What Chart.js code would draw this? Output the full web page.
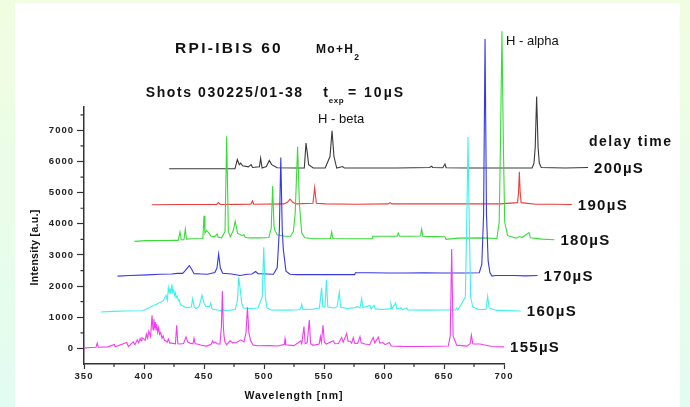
<!DOCTYPE html>
<html>
<head>
<meta charset="utf-8">
<script src="https://cdn.jsdelivr.net/npm/chart.js@4.4.0/dist/chart.umd.min.js"></script>
<style>
html, body { margin: 0; padding: 0; }
body {
	width: 690px; height: 407px; overflow: hidden; position: relative;
	background: linear-gradient(180deg, #f1fde1 0%, #e9fde9 55%, #e2fcf1 100%);
}
#panel { position: absolute; left: 15px; top: 3px; width: 665px; height: 404px; background: #fff; }
#c { position: absolute; left: 0; top: 0; }
</style>
</head>
<body>
<div id="panel"></div>
<canvas id="c" width="690" height="407"></canvas>
<script>
/* Espectros Mo+H2, gráfico en cascada (waterfall)
	cada traza: [longitud de onda nm, intensidad sobre su línea base]
*/
const spec155 = [[350,10],[355,30],[360,40],[361,170],[362,40],[370,50],[375.3,130],[376,50],[385.6,190],[387,60],[391,210],[392.5,120],[394.4,275],[395.5,180],[396.7,320],[397.5,250],[398.3,350],[400,300],[401,260],[402,460],[403,330],[404,550],[405.5,380],[406.7,1065],[407.5,600],[408.3,940],[408.9,650],[409.4,850],[410,600],[410.6,780],[411.4,520],[412.2,670],[413,450],[413.9,510],[415,330],[416,400],[417,260],[418.3,240],[419.3,200],[420.3,300],[421.5,170],[423,170],[426.2,150],[427.2,745],[428.2,150],[430,140],[433,160],[435,370],[436.5,200],[438.3,170],[440.8,150],[441.7,330],[442.6,150],[444.4,140],[448,100],[452,75],[456,130],[457.2,245],[458.2,170],[459.2,210],[461,150],[463.3,140],[464.5,700],[465.3,1845],[466.1,700],[466.7,400],[467.5,200],[468.9,120],[471.7,245],[474,180],[477.2,190],[480.6,275],[483.3,210],[485,500],[486.2,1320],[487.4,500],[488.9,245],[491,105],[495,85],[505,90],[512,80],[517,130],[517.5,300],[518,120],[525,90],[530.6,245],[531.5,150],[533.3,700],[534.3,150],[536,180],[537.8,915],[538.8,150],[541,100],[546,140],[547,380],[547.8,200],[549.2,745],[550.3,200],[552,140],[557.7,245],[559,150],[562,160],[564.7,350],[566,200],[568.9,480],[570,230],[571.7,230],[573,170],[574.4,340],[575.5,170],[578,160],[580,380],[581,180],[584,140],[588,120],[591,350],[592.3,180],[595.3,360],[596.5,170],[599,190],[601,120],[604.4,190],[606,80],[615,65],[630,60],[645,70],[653.6,80],[655.2,400],[656.4,3195],[657.6,400],[660.6,105],[668.9,75],[671.8,150],[672.8,425],[674,150],[675,140],[680,140],[690,60],[700,50]];

const spec160 = [[350,20],[360,40],[370,50],[385,60],[394.3,235],[396.6,270],[398.8,320],[402.1,375],[404.3,555],[405.5,400],[406.3,800],[407,650],[407.7,750],[408.4,600],[409.3,910],[409.9,650],[410.7,725],[411.4,550],[412.1,640],[412.8,480],[413.8,535],[414.6,380],[415.4,405],[416.4,250],[417.4,235],[421,160],[425.4,180],[426.6,450],[427.8,180],[429.3,130],[432,200],[434.3,555],[436,300],[437.7,195],[440.6,200],[441.6,300],[442.6,130],[443.2,110],[450,70],[458,80],[462,100],[463.9,400],[464.9,1130],[466.2,750],[467.4,300],[469,150],[475,130],[481,150],[484.5,500],[485.8,2100],[487.1,500],[488.5,150],[492,85],[505,80],[515,90],[516.5,120],[517.4,270],[518.3,110],[525,100],[532.2,150],[534,800],[535,200],[536.8,180],[538,1050],[539.2,180],[545,150],[547,200],[548.8,660],[549.8,180],[555,130],[562,160],[564,195],[566,150],[567.4,450],[568.4,160],[574.3,230],[575.3,120],[577.7,230],[578.7,120],[585,100],[591,120],[591.8,290],[592.8,120],[595.7,310],[596.7,120],[600.3,150],[601.3,90],[605,150],[606,85],[620,80],[635,85],[645.5,85],[646.6,150],[647.6,85],[653.8,500],[655,3000],[656,5640],[657,3000],[658.2,500],[660,180],[665,100],[671,100],[672.4,520],[673.6,150],[680,70],[700,50]];

const spec170 = [[350,20],[360,40],[375,60],[385,80],[395,90],[400,110],[404.2,110],[406,180],[408,280],[409.8,360],[411.5,260],[413.7,100],[420,90],[425,80],[431,140],[432.8,280],[434.2,730],[435.6,280],[437.6,110],[445,90],[452,40],[458,80],[462,90],[465,170],[467,100],[475,90],[479.8,80],[483,290],[484.8,1500],[486,3830],[487.2,1500],[488.1,880],[490.3,180],[493.7,80],[500,70],[510,75],[520,70],[530,70],[547.5,70],[548.2,130],[560,130],[575,120],[590,120],[605,130],[620,120],[640,120],[651.4,130],[653.5,400],[655,2000],[656.2,7630],[657.4,2000],[658.8,500],[660.3,130],[662,20],[665,40],[680,40],[690,30],[700,40]];

const spec180 = [[350,-15],[360,10],[375,15],[383,20],[386.5,20],[388,285],[389,40],[391.3,40],[392.4,380],[393.4,60],[398,70],[407,80],[408,805],[408.8,250],[410,340],[412,260],[413.8,150],[417,140],[418.8,220],[419.8,120],[422.6,100],[425.5,300],[426.9,3360],[428.3,300],[430,130],[432.5,350],[434,630],[436,250],[439.4,175],[441.3,200],[442.3,110],[446,100],[455,100],[462,110],[464,400],[465.2,1765],[466.3,500],[467,345],[469,200],[475,150],[480,150],[482.5,300],[484,900],[486,3025],[487.5,1200],[489.4,260],[492,100],[500,70],[510,70],[513.4,80],[514.4,285],[515.4,80],[530,70],[548,70],[548.6,150],[560,150],[569,150],[569.9,250],[570.9,150],[580,150],[588.4,160],[589.4,380],[590.4,150],[600,140],[608.7,135],[609.7,50],[620,90],[640,100],[652,80],[654,600],[655,3000],[656.3,6730],[657.5,3000],[658.6,600],[661,170],[668,90],[671,140],[673,110],[678.8,270],[680,100],[690,60],[700,40]];

const spec190 = [[350,10],[370,20],[390,20],[404,20],[405.5,80],[407,20],[420,25],[432.5,30],[433.8,135],[435,30],[460,40],[463,90],[465.2,190],[467.5,90],[470,40],[484.3,60],[485.7,560],[487.1,60],[495,40],[520,30],[547,40],[548.5,80],[550,40],[580,40],[620,40],[640,40],[654.8,80],[655.6,400],[656.3,1070],[657,400],[657.8,80],[670,30],[685,30],[700,20]];

const spec200 = [[350,20],[380,20],[404.8,20],[406.8,310],[408.4,150],[409.6,200],[411.2,115],[416,80],[418.2,150],[419.5,60],[425.2,80],[426.2,360],[427.4,40],[431,90],[433.4,285],[435.4,150],[440,50],[455,40],[462.6,40],[464,840],[465.1,520],[466.2,150],[470,40],[480,40],[484,410],[485.7,1235],[487.3,410],[489.6,40],[494.6,90],[496,40],[520,40],[540,40],[567,60],[568.7,100],[569.5,60],[578,50],[579.8,170],[580.8,50],[600,40],[630,40],[652.4,40],[654,200],[655,700],[656.2,2340],[657.4,700],[658.4,200],[660,60],[680,40],[699,60]];

const spectra = [spec155, spec160, spec170, spec180, spec190, spec200];
const delayLabels = ['155µS', '160µS', '170µS', '180µS', '190µS', '200µS'];
const xShift = [0, 14, 28, 42, 56.5, 71];          // desplazamiento en nm
const yShift = [0, 1150, 2300, 3450, 4600, 5750];  // desplazamiento en intensidad
const lineColors = ['#f23cf0', '#3ef0f0', '#3838e0', '#38dc38', '#f03c3c', '#3a3a3a'];

const xTicks = [350, 400, 450, 500, 550, 600, 650, 700];
const yTicks = [0, 1000, 2000, 3000, 4000, 5000, 6000, 7000];

const FONT = '"Liberation Sans", Arial, sans-serif';

function put(ctx, s, x, y, size, bold, spacing){
	ctx.font = (bold ? 'bold ' : '') + size + 'px ' + FONT;
	ctx.letterSpacing = spacing + 'px';
	ctx.fillText(s, x, y);
	return x + ctx.measureText(s).width;
}

function peakOf(k, maxWl){
	let best = null;
	spectra[k].forEach(p => {
		if(p[0] <= maxWl && (!best || p[1] > best[1])) best = p;
	});
	return best;
}

const annotate = {
	id: 'annotate',
	beforeDraw(chart){ chart.ctx.letterSpacing = '1px'; },
	afterDraw(chart){
		const ctx = chart.ctx, a = chart.chartArea;
		const xs = chart.scales.x, ys = chart.scales.y;
		ctx.save();
		// marcas menores
		ctx.strokeStyle = '#333'; ctx.lineWidth = 1.2;
		ctx.beginPath();
		for(let v = 500; v < 7750; v += 1000){
			const p = ys.getPixelForValue(v);
			ctx.moveTo(a.left - 3.5, p); ctx.lineTo(a.left, p);
		}
		for(let v = 375; v < 700; v += 50){
			const p = xs.getPixelForValue(v);
			ctx.moveTo(p, a.bottom); ctx.lineTo(p, a.bottom + 3);
		}
		ctx.stroke();

		ctx.fillStyle = '#111';
		ctx.textAlign = 'left';
		ctx.textBaseline = 'alphabetic';

		// títulos
		put(ctx, 'RPI-IBIS 60', 175, 53.3, 15.5, true, 2.3);
		let e = put(ctx, 'Mo+H', 316, 53.3, 12, true, 1.3);
		put(ctx, '2', e, 60, 8.5, true, 0);
		put(ctx, 'Shots 030225/01-38', 145.7, 97.3, 14, true, 1.6);
		e = put(ctx, 't', 323.3, 97.3, 14, true, 0);
		put(ctx, 'exp', e + 0.8, 102.5, 8, true, 0.6);
		put(ctx, '= 10µS', 348, 97.3, 14, true, 2);

		// etiquetas de líneas
		const ha = peakOf(3, 800);
		put(ctx, 'H - alpha', xs.getPixelForValue(ha[0] + xShift[3]) + 4, ys.getPixelForValue(ha[1] + yShift[3]) + 14, 13, false, 0);
		const hb = peakOf(5, 600);
		put(ctx, 'H - beta', xs.getPixelForValue(hb[0] + xShift[5]) - 14, ys.getPixelForValue(hb[1] + yShift[5]) - 8, 13, false, 0);

		// etiquetas de retardo al final de cada traza
		let lastX = 0, lastY = 0;
		spectra.forEach((s, k) => {
			const p = s[s.length - 1];
			lastX = xs.getPixelForValue(p[0] + xShift[k]) + 6;
			lastY = ys.getPixelForValue(p[1] + yShift[k]);
			put(ctx, delayLabels[k], lastX, lastY + 5.4, 15, true, 1.3);
		});
		put(ctx, 'delay time', lastX - 5, lastY - 21.5, 14, true, 1.5);

		// título eje y
		ctx.translate(35, (a.top + a.bottom) / 2 + 12);
		ctx.rotate(-Math.PI / 2);
		ctx.textAlign = 'center';
		ctx.textBaseline = 'middle';
		put(ctx, 'Intensity [a.u.]', 0, 0, 10.5, true, 0.3);
		ctx.restore();
	}
};

const tickFont = { family: FONT, weight: 'bold', size: 9.5 };

new Chart(document.getElementById('c').getContext('2d'), {
	type: 'line',
	data: {
		datasets: spectra.map((s, k) => ({
			label: delayLabels[k],
			data: s.map(p => ({ x: p[0] + xShift[k], y: p[1] + yShift[k] })),
			borderColor: lineColors[k],
			borderWidth: 1.1,
			pointRadius: 0,
			tension: 0,
			clip: false
		}))
	},
	options: {
		responsive: false,
		animation: false,
		layout: { padding: { left: 0, top: 107, right: 186, bottom: 0 } },
		plugins: { legend: { display: false }, tooltip: { enabled: false } },
		scales: {
			x: {
				type: 'linear',
				afterDataLimits: s => { s.min = xTicks[0]; s.max = xTicks[xTicks.length - 1]; },
				afterBuildTicks: s => { s.ticks = xTicks.map(v => ({ value: v })); },
				afterFit: s => { s.height = 43; },
				ticks: { color: '#222', font: tickFont, padding: 2, maxRotation: 0, autoSkip: false, callback: v => String(v) },
				grid: { drawOnChartArea: false, tickLength: 5, color: '#333', tickWidth: 1.2 },
				border: { color: '#333', width: 1.5 },
				title: { display: true, text: 'Wavelength [nm]', color: '#111',
					font: { family: FONT, weight: 'bold', size: 10.5 }, padding: { top: 0, bottom: 4.7 } }
			},
			y: {
				min: -500, max: 7750,
				afterBuildTicks: s => { s.ticks = yTicks.map(v => ({ value: v })); },
				afterFit: s => { s.width = 84; },
				ticks: { color: '#222', font: tickFont, padding: 3, autoSkip: false, callback: v => String(v) },
				grid: { drawOnChartArea: false, tickLength: 7, color: '#333', tickWidth: 1.2 },
				border: { color: '#333', width: 1.5 }
			}
		}
	},
	plugins: [annotate]
});
</script>
</body>
</html>
